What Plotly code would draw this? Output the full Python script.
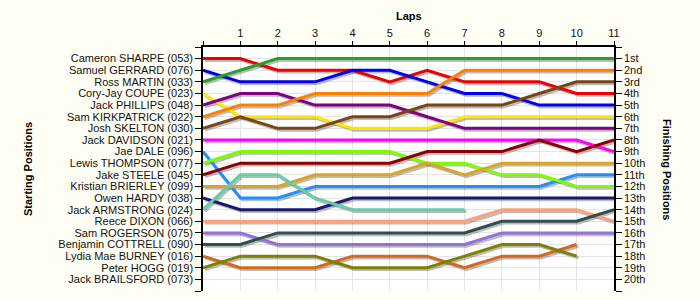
import plotly.graph_objects as go

laps = [0, 1, 2, 3, 4, 5, 6, 7, 8, 9, 10, 11]
lap_labels = ["", "1", "2", "3", "4", "5", "6", "7", "8", "9", "10", "11"]

drivers = [
    "Cameron SHARPE (053)", "Samuel GERRARD (076)", "Ross MARTIN (033)",
    "Cory-Jay COUPE (023)", "Jack PHILLIPS (048)", "Sam KIRKPATRICK (022)",
    "Josh SKELTON (030)", "Jack DAVIDSON (021)", "Jae DALE (096)",
    "Lewis THOMPSON (077)", "Jake STEELE (045)", "Kristian BRIERLEY (099)",
    "Owen HARDY (038)", "Jack ARMSTRONG (024)", "Reece DIXON (066)",
    "Sam ROGERSON (075)", "Benjamin COTTRELL (090)", "Lydia Mae BURNEY (016)",
    "Peter HOGG (019)", "Jack BRAILSFORD (073)",
]

finishing_labels = ["1st", "2nd", "3rd", "4th", "5th", "6th", "7th", "8th", "9th", "10th",
                    "11th", "12th", "13th", "14th", "15th", "16th", "17th", "18th", "19th", "20th"]

sharpe      = [1, 1, 2, 2, 2, 3, 2, 3, 3, 3, 4, 4]
gerrard     = [2, 3, 3, 3, 2, 2, 3, 4, 4, 5, 5, 5]
martin      = [3, 2, 1, 1, 1, 1, 1, 1, 1, 1, 1, 1]
coupe       = [4, 6, 6, 6, 7, 7, 7, 6, 6, 6, 6, 6]
phillips    = [5, 4, 4, 5, 5, 5, 6, 7, 7, 7, 7, 7]
kirkpatrick = [6, 5, 5, 4, 4, 4, 4, 2, 2, 2, 2, 2]
skelton     = [7, 6, 7, 7, 6, 6, 5, 5, 5, 4, 3, 3]
davidson    = [8, 8, 8, 8, 8, 8, 8, 8, 8, 8, 8, 9]
dale        = [9, 13, 13, 12, 12, 12, 12, 12, 12, 12, 11, 11]
thompson    = [10, 9, 9, 9, 9, 9, 10, 10, 11, 11, 12, 12]
steele      = [11, 10, 10, 10, 10, 10, 9, 9, 9, 8, 9, 8]
brierley    = [12, 12, 12, 11, 11, 11, 10, 11, 10, 10, 10, 10]
hardy       = [13, 14, 14, 14, 13, 13, 13, 13, 13, 13, 13, 13]
armstrong   = [14, 11, 11, 13, 14, 14, 14, 14, None, None, None, None]
dixon       = [15, 15, 15, 15, 15, 15, 15, 15, 14, 14, 14, 15]
rogerson    = [16, 16, 17, 17, 17, 17, 17, 17, 16, 16, 16, 16]
cottrell    = [17, 17, 16, 16, 16, 16, 16, 16, 15, 15, 15, 14]
burney      = [18, 19, 19, 19, 18, 18, 18, 19, 18, 18, 17, None]
hogg        = [19, 18, 18, 18, 19, 19, 19, 18, 17, 17, 18, None]
brailsford  = [20, None, None, None, None, None, None, None, None, None, None, None]

series = [sharpe, gerrard, martin, coupe, phillips, kirkpatrick, skelton, davidson,
          dale, thompson, steele, brierley, hardy, armstrong, dixon, rogerson,
          cottrell, burney, hogg, brailsford]

colors = ["#ee0000", "#0000ee", "#28a028", "#ffe800", "#800080", "#ff8000", "#7a4414",
          "#ff00ff", "#1e90ff", "#7cfc00", "#8b0000", "#daa520", "#191970", "#66cdaa",
          "#ffa07a", "#9370db", "#2f4f4f", "#d2691e", "#808000", "#999999"]

FONT = "Liberation Sans"
TXT = "#111111"

fig = go.Figure()

# shadows (on shifted overlay axes)
for vals in series:
    fig.add_trace(go.Scatter(x=laps, y=vals, mode="lines", xaxis="x2", yaxis="y2",
                             line=dict(color="rgba(60,60,60,0.35)", width=3),
                             hoverinfo="skip", showlegend=False, connectgaps=False))

# real lines
for name, vals, col in zip(drivers, series, colors):
    fig.add_trace(go.Scatter(x=laps, y=vals, mode="lines", name=name, xaxis="x3", yaxis="y3",
                             line=dict(color=col, width=3), showlegend=False, connectgaps=False))

# anchors for main axes and right axis
fig.add_trace(go.Scatter(x=[], y=[], xaxis="x", yaxis="y", showlegend=False))
fig.add_trace(go.Scatter(x=[], y=[], xaxis="x", yaxis="y4", showlegend=False))

W_PX = 411.0
H_PX = 244.0
dx = 1.8 * 11 / W_PX
dy = 1.8 * 21 / H_PX

ytickvals = list(range(0, 22))
left_text = [""] + drivers + [""]
right_text = [""] + finishing_labels + [""]

fig.update_layout(
    width=700, height=300,
    margin=dict(l=203, r=86, t=47, b=9),
    paper_bgcolor="#fffef4",
    plot_bgcolor="#ffffff",
    showlegend=False,
    font=dict(family=FONT, size=11, color=TXT),
    xaxis=dict(range=[0, 11], side="top", tickvals=laps, ticktext=lap_labels,
               showgrid=True, gridcolor="#e4e4e4", gridwidth=1, zeroline=False,
               showline=True, linecolor="black", linewidth=1.5,
               ticks="outside", ticklen=4, tickcolor="black", tickwidth=1,
               tickfont=dict(family=FONT, size=11, color=TXT), fixedrange=True),
    yaxis=dict(range=[21, 0], tickvals=ytickvals, ticktext=left_text,
               showgrid=True, gridcolor="#e4e4e4", gridwidth=1, zeroline=False,
               showline=True, linecolor="black", linewidth=1.5,
               ticks="outside", ticklen=6, tickcolor="black", tickwidth=1,
               tickfont=dict(family=FONT, size=11, color=TXT), fixedrange=True),
    yaxis4=dict(range=[21, 0], overlaying="y", side="right", anchor="x",
                tickvals=ytickvals, ticktext=right_text,
                showgrid=False, zeroline=False,
                showline=True, linecolor="black", linewidth=1.5,
                ticks="outside", ticklen=6, tickcolor="black", tickwidth=1,
                tickfont=dict(family=FONT, size=11, color=TXT), fixedrange=True),
    xaxis2=dict(range=[0 - dx, 11 - dx], overlaying="x", visible=False, fixedrange=True),
    yaxis2=dict(range=[21 - dy, 0 - dy], overlaying="y", visible=False, fixedrange=True),
    xaxis3=dict(range=[0, 11], overlaying="x", visible=False, fixedrange=True),
    yaxis3=dict(range=[21, 0], overlaying="y", visible=False, fixedrange=True),
    annotations=[
        dict(text="<b>Laps</b>", xref="paper", yref="paper", x=0.5, y=1 + 31 / H_PX,
             xanchor="center", yanchor="middle", showarrow=False,
             font=dict(family=FONT, size=11, color="black")),
        dict(text="<b>Starting Positions</b>", xref="paper", yref="paper",
             x=(28 - 203) / W_PX, y=0.5, textangle=-90,
             xanchor="center", yanchor="middle", showarrow=False,
             font=dict(family=FONT, size=11, color="black")),
        dict(text="<b>Finishing Positions</b>", xref="paper", yref="paper",
             x=(667 - 203) / W_PX, y=0.5, textangle=90,
             xanchor="center", yanchor="middle", showarrow=False,
             font=dict(family=FONT, size=11, color="black")),
    ],
)

fig.write_html("out.html")
